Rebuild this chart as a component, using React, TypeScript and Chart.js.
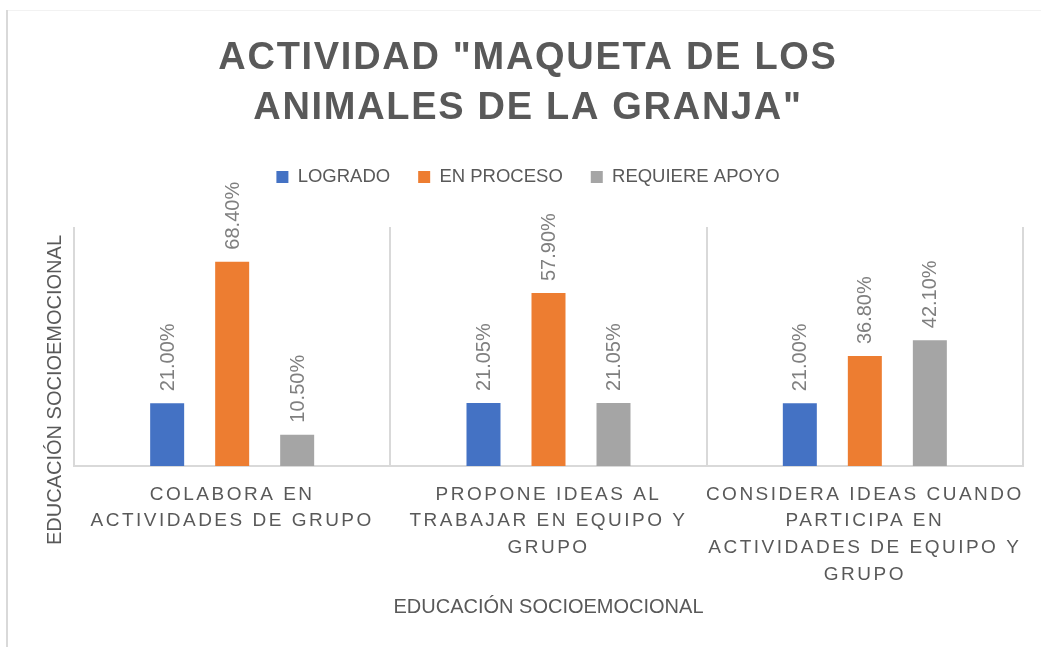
import React, { useEffect, useRef } from 'react';
import { Chart, registerables } from 'chart.js';

Chart.register(...registerables);

// ---- data ----
const categories: string[][] = [
  ['COLABORA EN', 'ACTIVIDADES DE GRUPO'],
  ['PROPONE IDEAS AL', 'TRABAJAR EN EQUIPO Y', 'GRUPO'],
  ['CONSIDERA IDEAS CUANDO', 'PARTICIPA EN', 'ACTIVIDADES DE EQUIPO Y', 'GRUPO'],
];
const seriesNames = ['LOGRADO', 'EN PROCESO', 'REQUIERE APOYO'];
const logrado = [21.0, 21.05, 21.0];
const enProceso = [68.4, 57.9, 36.8];
const requiereApoyo = [10.5, 21.05, 42.1];
const seriesColors = ['#4472C4', '#ED7D31', '#A5A5A5'];
const titleLines = ['ACTIVIDAD "MAQUETA DE LOS', 'ANIMALES DE LA GRANJA"'];
const xAxisTitle = 'EDUCACIÓN SOCIOEMOCIONAL';
const yAxisTitle = 'EDUCACIÓN SOCIOEMOCIONAL';
const yMin = 0;
const yMax = 80;

const FONT = "'Liberation Sans', Arial, sans-serif";
const TEXT = '#595959';

const spacingPlugin = {
  id: 'letterSpacingPatch',
  afterLayout(chart: any) {
    const patch = (obj: any, method: string, spacing: string) => {
      if (!obj || obj['__ls_' + method]) return;
      const orig = obj[method];
      obj[method] = function (...args: any[]) {
        const ctx = this.ctx;
        ctx.save();
        ctx.letterSpacing = spacing;
        const r = orig.apply(this, args);
        ctx.restore();
        return r;
      };
      obj['__ls_' + method] = true;
    };
    patch(chart.titleBlock, 'draw', '1.7px');
    patch(chart.scales.x, 'drawLabels', '2.5px');
  },
};

const valueLabelPlugin = {
  id: 'valueLabels',
  afterDatasetsDraw(chart: any) {
    const ctx = chart.ctx;
    ctx.save();
    ctx.font = `20px ${FONT}`;
    ctx.fillStyle = '#7f7f7f';
    ctx.textAlign = 'left';
    ctx.textBaseline = 'middle';
    chart.data.datasets.forEach((ds: any, i: number) => {
      const meta = chart.getDatasetMeta(i);
      meta.data.forEach((el: any, j: number) => {
        const v = ds.data[j] as number;
        ctx.save();
        ctx.translate(el.x + 1, el.y - 12);
        ctx.rotate(-Math.PI / 2);
        ctx.fillText(v.toFixed(2) + '%', 0, 0);
        ctx.restore();
      });
    });
    ctx.restore();
  },
};

const decorPlugin = {
  id: 'decor',
  beforeDraw(chart: any) {
    const ctx = chart.ctx;
    ctx.save();
    ctx.fillStyle = '#d9d9d9';
    ctx.fillRect(6, 10, 2, chart.height - 10);
    ctx.fillStyle = '#f2f2f2';
    ctx.fillRect(8, 10, chart.width - 8, 1);
    ctx.restore();
  },
  afterDraw(chart: any) {
    const ctx = chart.ctx;
    ctx.save();
    ctx.font = `20px ${FONT}`;
    ctx.fillStyle = TEXT;
    ctx.textAlign = 'center';
    ctx.textBaseline = 'middle';
    ctx.translate(55, 390);
    ctx.rotate(-Math.PI / 2);
    ctx.fillText(yAxisTitle, 0, 0);
    ctx.restore();
  },
};

export default function App() {
  const ref = useRef<HTMLCanvasElement | null>(null);

  useEffect(() => {
    if (!ref.current) return;
    Chart.defaults.font.family = FONT;
    const chart = new Chart(ref.current, {
      type: 'bar',
      data: {
        labels: categories as any,
        datasets: [
          { label: seriesNames[0], data: logrado, backgroundColor: seriesColors[0] },
          { label: seriesNames[1], data: enProceso, backgroundColor: seriesColors[1] },
          { label: seriesNames[2], data: requiereApoyo, backgroundColor: seriesColors[2] },
        ],
      },
      options: {
        responsive: true,
        maintainAspectRatio: false,
        animation: false,
        layout: { padding: { left: 33, right: 18, top: 0, bottom: 28 } },
        datasets: { bar: { categoryPercentage: 0.6165, barPercentage: 0.523 } },
        scales: {
          x: {
            grid: { color: '#d9d9d9', lineWidth: 2, drawTicks: false, offset: true },
            border: { color: '#d9d9d9', width: 2 },
            ticks: {
              color: TEXT,
              font: { size: 19, lineHeight: '26.7px' },
              padding: 15,
              maxRotation: 0,
              minRotation: 0,
              autoSkip: false,
            },
            title: {
              display: true,
              text: xAxisTitle,
              color: TEXT,
              font: { size: 20, lineHeight: '24px' },
              padding: { top: 7, bottom: 0 },
            },
            afterFit: (s: any) => {
              s.height = 153;
            },
          },
          y: {
            min: yMin,
            max: yMax,
            display: true,
            grid: { display: false },
            border: { display: false },
            ticks: { display: false },
            afterFit: (s: any) => {
              s.width = 41;
            },
          },
        },
        plugins: {
          title: {
            display: true,
            text: titleLines,
            color: TEXT,
            font: { size: 38, weight: 'bold', lineHeight: '50px' },
            padding: { top: 34, bottom: 5.75 },
          },
          subtitle: {
            display: true,
            text: '',
            weight: 500,
            padding: 0,
            font: { size: 10, lineHeight: '30.75px' },
          } as any,
          legend: {
            position: 'top',
            labels: {
              boxWidth: 12,
              boxHeight: 12,
              padding: 28,
              color: TEXT,
              font: { size: 18.5 },
            },
          },
          tooltip: { enabled: false },
        },
      } as any,
      plugins: [spacingPlugin, valueLabelPlugin, decorPlugin],
    });
    return () => chart.destroy();
  }, []);

  return (
    <div style={{ position: 'fixed', left: 0, top: 0, width: 1041, height: 647, background: '#fff' }}>
      <canvas ref={ref} />
    </div>
  );
}
